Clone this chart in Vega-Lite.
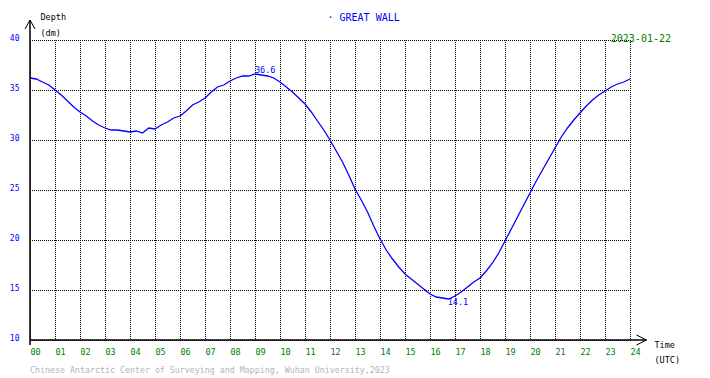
{
  "$schema": "https://vega.github.io/schema/vega-lite/v6.json",
  "width": 600,
  "height": 300,
  "autosize": {"type": "none"},
  "padding": {"left": 30, "top": 40, "right": 80, "bottom": 38},
  "background": "white",
  "config": {
    "view": {"stroke": null},
    "font": "DejaVu Sans Mono"
  },
  "layer": [
    {
      "data": {"values": [
        {"hour":0.00,"depth":36.2},{"hour":0.25,"depth":36.1},{"hour":0.50,"depth":35.8},{"hour":0.75,"depth":35.5},
        {"hour":1.00,"depth":35.0},{"hour":1.25,"depth":34.5},{"hour":1.50,"depth":33.9},{"hour":1.75,"depth":33.3},
        {"hour":2.00,"depth":32.8},{"hour":2.25,"depth":32.4},{"hour":2.50,"depth":31.9},{"hour":2.75,"depth":31.5},
        {"hour":3.00,"depth":31.2},{"hour":3.25,"depth":31.0},{"hour":3.50,"depth":31.0},{"hour":3.75,"depth":30.9},
        {"hour":4.00,"depth":30.8},{"hour":4.25,"depth":30.9},{"hour":4.50,"depth":30.7},{"hour":4.75,"depth":31.2},
        {"hour":5.00,"depth":31.1},{"hour":5.25,"depth":31.5},{"hour":5.50,"depth":31.8},{"hour":5.75,"depth":32.2},
        {"hour":6.00,"depth":32.4},{"hour":6.25,"depth":32.9},{"hour":6.50,"depth":33.5},{"hour":6.75,"depth":33.8},
        {"hour":7.00,"depth":34.2},{"hour":7.25,"depth":34.8},{"hour":7.50,"depth":35.3},{"hour":7.75,"depth":35.5},
        {"hour":8.00,"depth":35.9},{"hour":8.25,"depth":36.2},{"hour":8.50,"depth":36.4},{"hour":8.75,"depth":36.4},
        {"hour":9.00,"depth":36.6},{"hour":9.25,"depth":36.5},{"hour":9.50,"depth":36.4},{"hour":9.75,"depth":36.2},
        {"hour":10.00,"depth":35.8},{"hour":10.25,"depth":35.3},{"hour":10.50,"depth":34.8},{"hour":10.75,"depth":34.2},
        {"hour":11.00,"depth":33.6},{"hour":11.25,"depth":32.8},{"hour":11.50,"depth":31.9},{"hour":11.75,"depth":31.0},
        {"hour":12.00,"depth":30.0},{"hour":12.25,"depth":28.9},{"hour":12.50,"depth":27.8},{"hour":12.75,"depth":26.5},
        {"hour":13.00,"depth":25.1},{"hour":13.25,"depth":24.0},{"hour":13.50,"depth":22.8},{"hour":13.75,"depth":21.4},
        {"hour":14.00,"depth":20.1},{"hour":14.25,"depth":19.0},{"hour":14.50,"depth":18.1},{"hour":14.75,"depth":17.3},
        {"hour":15.00,"depth":16.6},{"hour":15.25,"depth":16.1},{"hour":15.50,"depth":15.6},{"hour":15.75,"depth":15.1},
        {"hour":16.00,"depth":14.6},{"hour":16.25,"depth":14.3},{"hour":16.50,"depth":14.2},{"hour":16.75,"depth":14.1},
        {"hour":17.00,"depth":14.4},{"hour":17.25,"depth":14.8},{"hour":17.50,"depth":15.3},{"hour":17.75,"depth":15.8},
        {"hour":18.00,"depth":16.2},{"hour":18.25,"depth":16.9},{"hour":18.50,"depth":17.7},{"hour":18.75,"depth":18.7},
        {"hour":19.00,"depth":19.9},{"hour":19.25,"depth":21.1},{"hour":19.50,"depth":22.3},{"hour":19.75,"depth":23.5},
        {"hour":20.00,"depth":24.7},{"hour":20.25,"depth":25.9},{"hour":20.50,"depth":27.0},{"hour":20.75,"depth":28.1},
        {"hour":21.00,"depth":29.2},{"hour":21.25,"depth":30.3},{"hour":21.50,"depth":31.2},{"hour":21.75,"depth":32.0},
        {"hour":22.00,"depth":32.7},{"hour":22.25,"depth":33.4},{"hour":22.50,"depth":34.0},{"hour":22.75,"depth":34.5},
        {"hour":23.00,"depth":34.9},{"hour":23.25,"depth":35.3},{"hour":23.50,"depth":35.6},{"hour":23.75,"depth":35.8},
        {"hour":24.00,"depth":36.1}
      ]},
      "mark": {"type": "line", "color": "#0000ff", "strokeWidth": 1.3, "clip": false},
      "encoding": {
        "x": {
          "field": "hour", "type": "quantitative",
          "scale": {"domain": [0, 24], "nice": false, "zero": false},
          "axis": {
            "values": [0,1,2,3,4,5,6,7,8,9,10,11,12,13,14,15,16,17,18,19,20,21,22,23,24],
            "tickCount": 40,
            "labelExpr": "datum.value < 10 ? '0' + datum.value : '' + datum.value",
            "labelAlign": "left",
            "labelBaseline": "top",
            "labelPadding": 7,
            "labelFont": "DejaVu Sans Mono",
            "labelFontSize": 8.5,
            "labelColor": "#008000",
            "labelFlush": false,
            "labelOverlap": false,
            "ticks": false,
            "domain": false,
            "grid": true,
            "gridColor": "#000000",
            "gridOpacity": 1,
            "gridDash": [1, 1],
            "gridDashOffset": 0.5,
            "gridWidth": 1,
            "title": ["Time", "(UTC)"],
            "titleFont": "DejaVu Sans Mono",
            "titleFontSize": 8.5,
            "titleFontWeight": "normal",
            "titleColor": "#000000",
            "titleAlign": "left",
            "titleBaseline": "alphabetic",
            "titleAngle": 0,
            "titleX": 624,
            "titleY": 7,
            "titleLineHeight": 15
          }
        },
        "y": {
          "field": "depth", "type": "quantitative",
          "scale": {"domain": [10, 40], "nice": false, "zero": false},
          "axis": {
            "values": [10, 15, 20, 25, 30, 35, 40],
            "tickCount": 20,
            "labelAlign": "right",
            "labelBaseline": "alphabetic",
            "labelPadding": 11,
            "labelFont": "DejaVu Sans Mono",
            "labelFontSize": 8,
            "labelColor": "#0000ff",
            "labelFlush": false,
            "labelOverlap": false,
            "ticks": false,
            "domain": false,
            "grid": true,
            "gridColor": "#000000",
            "gridOpacity": 1,
            "gridDash": [1, 1],
            "gridDashOffset": 0.5,
            "gridWidth": 1,
            "title": ["Depth", "(dm)"],
            "titleFont": "DejaVu Sans Mono",
            "titleFontSize": 8.5,
            "titleFontWeight": "normal",
            "titleColor": "#000000",
            "titleAlign": "left",
            "titleBaseline": "alphabetic",
            "titleAngle": 0,
            "titleX": 10,
            "titleY": -21,
            "titleLineHeight": 16
          }
        }
      }
    },
    {
      "data": {"values": [{}]},
      "mark": {"type": "rule", "color": "#000000", "strokeWidth": 1.5, "clip": false},
      "encoding": {
        "x": {"datum": 0, "type": "quantitative"},
        "y": {"datum": 9.5, "type": "quantitative"},
        "y2": {"datum": 42}
      }
    },
    {
      "data": {"values": [{}]},
      "mark": {"type": "rule", "color": "#000000", "strokeWidth": 1.5, "clip": false},
      "encoding": {
        "x": {"datum": 0, "type": "quantitative"},
        "x2": {"datum": 24.66},
        "y": {"datum": 10, "type": "quantitative"}
      }
    },
    {
      "data": {"values": [{}]},
      "mark": {"type": "point", "shape": "M-1,1.8L0,0L1,1.8", "size": 100, "filled": false, "stroke": "#000000", "strokeWidth": 1, "opacity": 1, "clip": false},
      "encoding": {
        "x": {"datum": 0, "type": "quantitative"},
        "y": {"datum": 42, "type": "quantitative"}
      }
    },
    {
      "data": {"values": [{}]},
      "mark": {"type": "point", "shape": "M-2,-1L0,0L-2,1", "size": 100, "filled": false, "stroke": "#000000", "strokeWidth": 1, "opacity": 1, "clip": false},
      "encoding": {
        "x": {"datum": 24.66, "type": "quantitative"},
        "y": {"datum": 10, "type": "quantitative"}
      }
    },
    {
      "data": {"values": [{"hour": 9.0, "depth": 36.6}]},
      "mark": {"type": "text", "align": "left", "baseline": "alphabetic", "dy": -1, "font": "DejaVu Sans Mono", "fontSize": 8.5, "color": "#0000ff", "clip": false},
      "encoding": {
        "x": {"field": "hour", "type": "quantitative"},
        "y": {"field": "depth", "type": "quantitative"},
        "text": {"field": "depth", "type": "quantitative", "format": ".1f"}
      }
    },
    {
      "data": {"values": [{"hour": 16.75, "depth": 14.1}]},
      "mark": {"type": "text", "align": "left", "baseline": "top", "dx": -1, "dy": -1, "font": "DejaVu Sans Mono", "fontSize": 8.5, "color": "#0000ff", "clip": false},
      "encoding": {
        "x": {"field": "hour", "type": "quantitative"},
        "y": {"field": "depth", "type": "quantitative"},
        "text": {"field": "depth", "type": "quantitative", "format": ".1f"}
      }
    },
    {
      "data": {"values": [{"station": "· GREAT WALL"}]},
      "mark": {"type": "text", "align": "left", "baseline": "alphabetic", "dx": -2.5, "dy": -19, "font": "DejaVu Sans Mono", "fontSize": 10, "color": "#0000ff", "clip": false},
      "encoding": {
        "x": {"datum": 12, "type": "quantitative"},
        "y": {"datum": 40, "type": "quantitative"},
        "text": {"field": "station", "type": "nominal"}
      }
    },
    {
      "data": {"values": [{"date": "2023-01-22"}]},
      "mark": {"type": "text", "align": "right", "baseline": "alphabetic", "dx": 41, "dy": 1.5, "font": "DejaVu Sans Mono", "fontSize": 10, "color": "#008000", "clip": false},
      "encoding": {
        "x": {"datum": 24, "type": "quantitative"},
        "y": {"datum": 40, "type": "quantitative"},
        "text": {"field": "date", "type": "nominal"}
      }
    },
    {
      "data": {"values": [{"credit": "Chinese Antarctic Center of Surveying and Mapping, Wuhan University,2023"}]},
      "mark": {"type": "text", "align": "left", "baseline": "alphabetic", "dy": 33, "font": "DejaVu Sans Mono", "fontSize": 8.3, "color": "#b4b4b4", "clip": false},
      "encoding": {
        "x": {"datum": 0, "type": "quantitative"},
        "y": {"datum": 10, "type": "quantitative"},
        "text": {"field": "credit", "type": "nominal"}
      }
    }
  ]
}
